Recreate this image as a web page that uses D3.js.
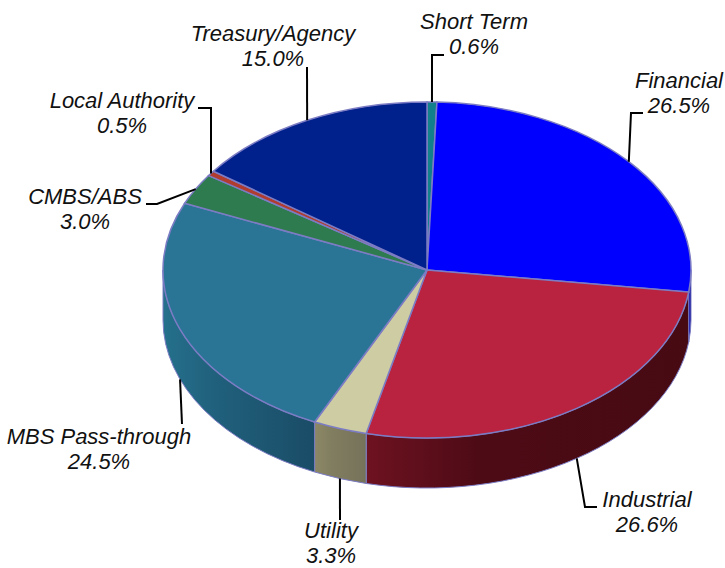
<!DOCTYPE html>
<html>
<head>
<meta charset="utf-8">
<script src="https://cdn.jsdelivr.net/npm/d3@7"></script>
<style>
  body { margin: 0; background: #fff; }
  text { font-family: "Liberation Sans", Arial, sans-serif; font-style: italic; font-size: 22px; fill: #111; }
</style>
</head>
<body>
<div id="chart"></div>
<script>
const names = ["Short Term", "Financial", "Industrial", "Utility", "MBS Pass-through", "CMBS/ABS", "Local Authority", "Treasury/Agency"];
const shares = [0.6, 26.5, 26.6, 3.3, 24.5, 3.0, 0.5, 15.0];
const topColors = ["#12808c", "#0000ff", "#b9233f", "#cdcca2", "#2a7596", "#2f7b50", "#b03c30", "#00208c"];
const wallLight = ["#12808c", "#0000c0", "#6e1220", "#8c8866", "#25708c", "#2f7b50", "#b03c30", "#00208c"];
const wallMid = ["#0f6d77", "#0000a6", "#4d0b16", "#807d60", "#20607c", "#256a45", "#953328", "#001b76"];
const wallDark = ["#0c5a62", "#00008c", "#470a12", "#75725a", "#1a4c66", "#205a3a", "#7a2a20", "#00165f"];

// label placement: text centre, baseline of first line, and elbow of the leader
const labelPos = {
  "Short Term":       { x: 474, y: 29, elbow: [[432, 55], [444, 55]] },
  "Financial":        { x: 679, y: 88, elbow: [[631, 113], [643, 113]] },
  "Industrial":       { x: 647, y: 507, elbow: [[585, 507], [597, 507]] },
  "Utility":          { x: 331, y: 538, elbow: [[340, 520]] },
  "MBS Pass-through": { x: 99, y: 444, elbow: [[182, 424]] },
  "CMBS/ABS":         { x: 85, y: 204, elbow: [[157, 204], [146, 204]] },
  "Local Authority":  { x: 122, y: 108, elbow: [[211, 108], [198, 108]] },
  "Treasury/Agency":  { x: 273, y: 41, elbow: [[307, 67]] }
};

const W = 725, H = 568;
const cx = 427, cy = 270, rx = 264, ry = 168, depth = 50;
const edge = "#7c7cc4";

const svg = d3.select("#chart").append("svg")
    .attr("width", W)
    .attr("height", H)
    .attr("viewBox", `0 0 ${W} ${H}`);

const slices = d3.pie().sort(null).value(d => d)(shares);

// position on the tilted rim for a pie angle
const px = a => cx + rx * Math.sin(a);
const py = a => cy - ry * Math.cos(a);

const defs = svg.append("defs");
slices.forEach((s, i) => {
  const g = defs.append("linearGradient").attr("id", `wall${i}`);
  // the wall runs right to left on screen, so the lit side is at offset 0
  g.append("stop").attr("offset", "0%").attr("stop-color", wallLight[i]);
  g.append("stop").attr("offset", "35%").attr("stop-color", wallMid[i]);
  g.append("stop").attr("offset", "100%").attr("stop-color", wallDark[i]);
});

// side walls, only the front half of the rim shows
const lo = Math.PI / 2, hi = Math.PI * 1.5;
function wallPath(a0, a1) {
  return `M${px(a0)},${py(a0)}A${rx},${ry} 0 0 1 ${px(a1)},${py(a1)}` +
    `L${px(a1)},${py(a1) + depth}A${rx},${ry} 0 0 0 ${px(a0)},${py(a0) + depth}Z`;
}
svg.append("g").selectAll("path")
  .data(slices.map((s, i) => ({ i, a0: Math.max(s.startAngle, lo), a1: Math.min(s.endAngle, hi) }))
    .filter(d => d.a1 > d.a0))
  .join("path")
    .attr("d", d => wallPath(d.a0, d.a1))
    .attr("fill", d => `url(#wall${d.i})`)
    .attr("stroke", edge)
    .attr("stroke-width", 1);

// top face: circular arcs squashed into the ellipse
const arc = d3.arc().innerRadius(0).outerRadius(rx);
svg.append("g")
    .attr("transform", `translate(${cx},${cy}) scale(1,${ry / rx})`)
  .selectAll("path")
  .data(slices)
  .join("path")
    .attr("d", arc)
    .attr("fill", (d, i) => topColors[i])
    .attr("stroke", edge)
    .attr("stroke-width", 1.5)
    .attr("vector-effect", "non-scaling-stroke");

// leaders start at the middle of each slice, on the wall if it is at the front
const line = d3.line();
svg.append("g").selectAll("path")
  .data(slices)
  .join("path")
    .attr("d", (d, i) => {
      const a = (d.startAngle + d.endAngle) / 2;
      const front = a > lo && a < hi;
      return line([[px(a), py(a) + (front ? depth : 0)], ...labelPos[names[i]].elbow]);
    })
    .attr("fill", "none")
    .attr("stroke", "#000")
    .attr("stroke-width", 2);

const labels = svg.append("g").selectAll("text")
  .data(slices)
  .join("text")
    .attr("text-anchor", "middle")
    .attr("y", (d, i) => labelPos[names[i]].y);
labels.append("tspan")
    .attr("x", (d, i) => labelPos[names[i]].x)
    .text((d, i) => names[i]);
labels.append("tspan")
    .attr("x", (d, i) => labelPos[names[i]].x)
    .attr("dy", 25)
    .text((d, i) => shares[i].toFixed(1) + "%");
</script>
</body>
</html>
